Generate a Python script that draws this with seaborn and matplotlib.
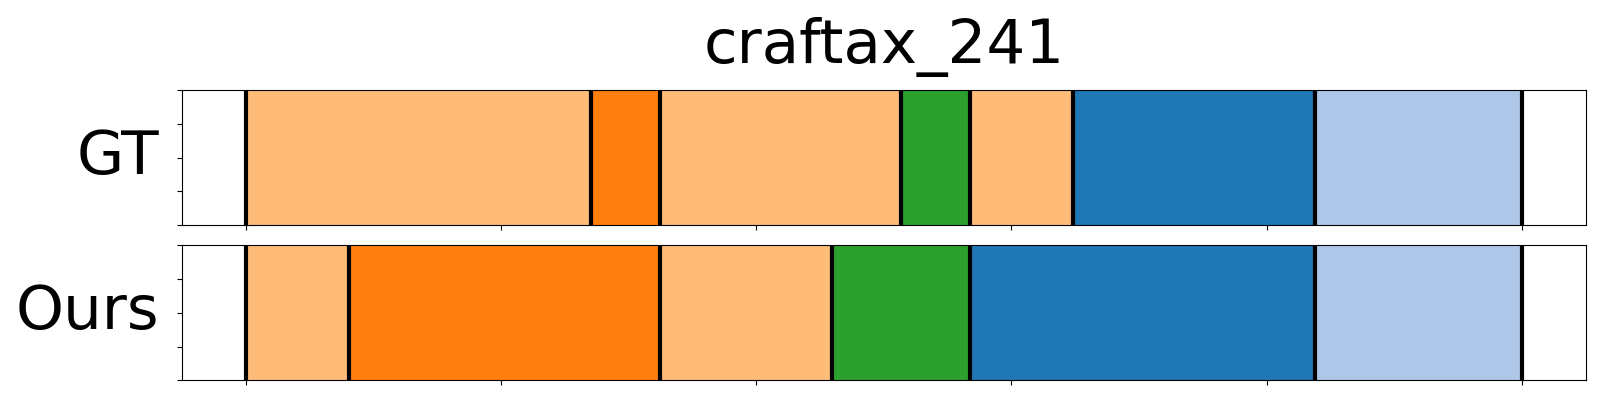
import numpy as np
import pandas as pd
import matplotlib
matplotlib.use("Agg")
import matplotlib.pyplot as plt
import seaborn as sns

# ---- data (frame indices of segment boundaries, 37 frames in total) ----
n_frames = 37
gt_bounds = [0, 10, 12, 19, 21, 24, 31, 37]
gt_labels = ["s1", "s0", "s1", "s2", "s1", "s3", "s4"]
ours_bounds = [0, 3, 12, 17, 21, 31, 37]
ours_labels = ["s1", "s0", "s1", "s2", "s3", "s4"]
row_names = ["GT", "Ours"]
title = "craftax_241"

label_order = ["s0", "s1", "s2", "s3", "s4"]
label_colors = ["#ff7f0e", "#ffbb78", "#2ca02c", "#1f77b4", "#aec7e8"]
palette = dict(zip(label_order, label_colors))

sns.set_style("ticks", rc={"axes.edgecolor": "black", "xtick.color": "black",
                           "ytick.color": "black", "axes.linewidth": 0.8,
                           "text.color": "black", "axes.labelcolor": "black"})
plt.rcParams["font.family"] = ["DejaVu Sans"]

fig = plt.figure(figsize=(16, 4), dpi=100)
left, width = 0.1136, 0.8775
ax_top = fig.add_axes([left, 0.4375, width, 0.3368])
ax_bot = fig.add_axes([left, 0.0493, width, 0.3375])

for ax, bounds, labels, name in [(ax_top, gt_bounds, gt_labels, row_names[0]),
                                 (ax_bot, ours_bounds, ours_labels, row_names[1])]:
    b = [v / n_frames for v in bounds]
    df = pd.DataFrame({"x": [(b[i] + b[i + 1]) / 2 for i in range(len(labels))],
                       "label": labels,
                       "w": [1.0] * len(labels)})
    sns.histplot(data=df, x="x", weights="w", hue="label", hue_order=label_order,
                 bins=b, multiple="stack", palette=palette, alpha=1,
                 linewidth=0, legend=False, ax=ax, stat="count")
    for v in b:
        ax.axvline(v, color="black", lw=3)
    ax.set_xlim(-0.05, 1.05)
    ax.set_ylim(0, 1)
    ax.set_xticks(np.linspace(0, 1, 6))
    ax.set_yticks([0, 0.25, 0.5, 0.75, 1.0])
    ax.set_xticklabels([])
    ax.set_yticklabels([])
    ax.set_xlabel("")
    ax.set_ylabel(name, rotation=0, fontsize=44, ha="right", va="center",
                  labelpad=9, color="black")
    for s in ax.spines.values():
        s.set_visible(True)

ax_top.set_title(title, fontsize=44, pad=20, color="black")

fig.savefig("out.png", dpi=100)
